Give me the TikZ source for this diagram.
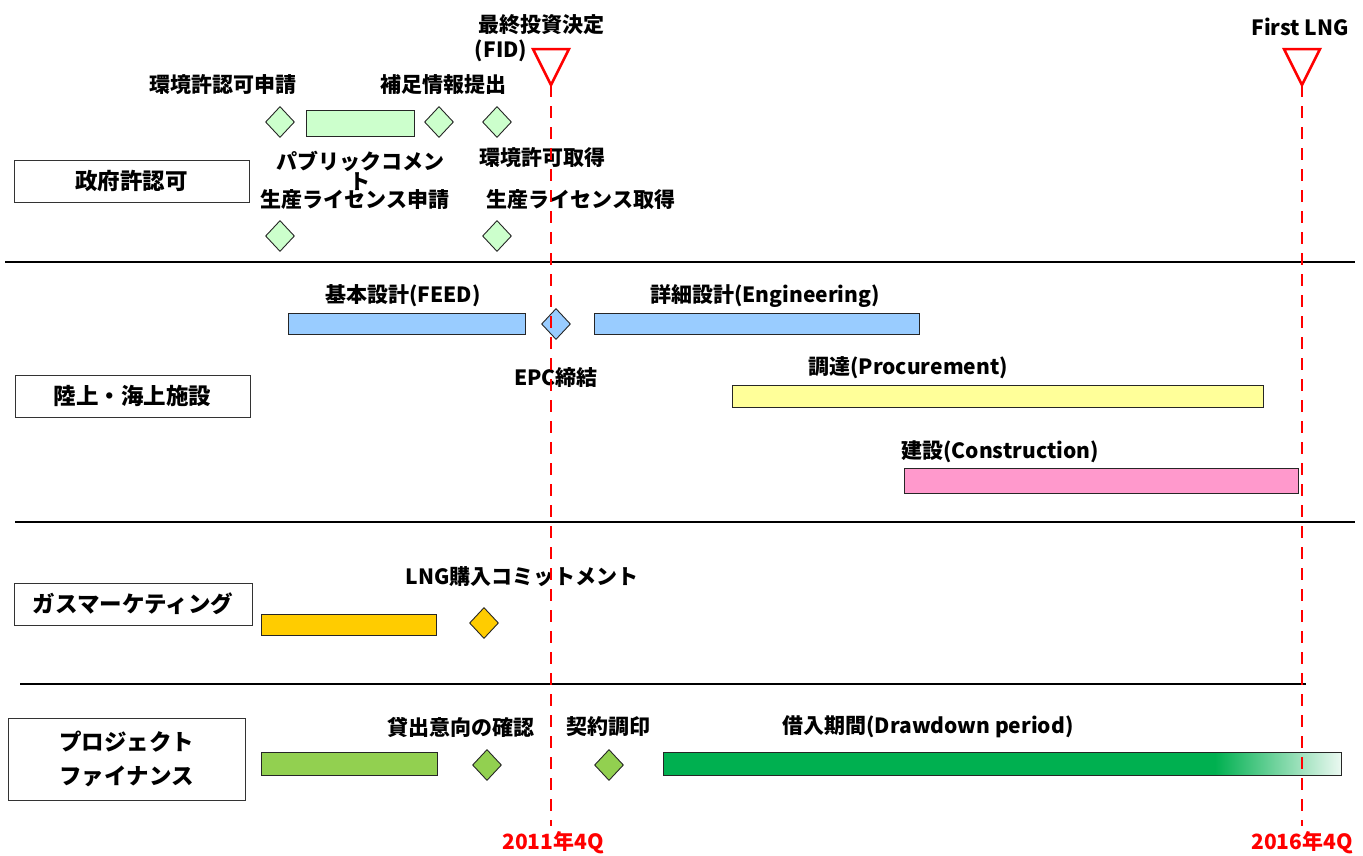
\documentclass[tikz,border=0pt]{standalone}
\usepackage{fontspec}
\setmainfont{Noto Sans CJK JP}
\usetikzlibrary{shapes.geometric}
\definecolor{govgreen}{HTML}{CCFFCC}
\definecolor{facblue}{HTML}{99CCFF}
\definecolor{procyel}{HTML}{FFFF99}
\definecolor{conpink}{HTML}{FF99CC}
\definecolor{gasgold}{HTML}{FFCC00}
\definecolor{pflime}{HTML}{92D050}
\definecolor{pfgreen}{HTML}{00B050}
\definecolor{msred}{HTML}{FF0000}
\tikzset{
  lbl/.style={font=\fontsize{21}{24}\selectfont\bfseries, inner sep=0pt},
  redlbl/.style={lbl, text=msred},
  rowbox/.style={draw=black!80, line width=1pt, fill=white, minimum width=235pt, minimum height=42pt, font=\fontsize{22.5}{34}\selectfont\bfseries, align=center},
  bar/.style={draw=black!85, line width=1pt},
  ms/.style={diamond, draw=black!85, line width=0.9pt, minimum width=29pt, minimum height=31pt, inner sep=0pt},
  sep/.style={line width=1.6pt, black},
  milestone/.style={draw=msred, line width=2.5pt, fill=white},
  fidline/.style={draw=msred, line width=2.6pt, dash pattern=on 12pt off 9pt},
}
\begin{document}
\begin{tikzpicture}[x=1pt,y=-1pt]
\useasboundingbox (0,0) rectangle (1363,855);

% separator lines
\draw[sep] (5,262) -- (1355,262);
\draw[sep] (15,522) -- (1355,522);
\draw[sep] (20,684) -- (1306,684);

% row boxes
\node[rowbox] (gov) at (131.5,181) {政府許認可};
\node[rowbox] (fac) at (132.5,396) {陸上・海上施設};
\node[rowbox, minimum width=238pt] (gas) at (133,604) {ガスマーケティング};
\node[rowbox, minimum width=237pt, minimum height=82pt] (pf) at (126.5,759) {プロジェクト\\ファイナンス};

% --- government permits
\node[lbl] (envapp) at (223,85) {環境許認可申請};
\node[ms, fill=govgreen] (d1) at (280,122) {};
\draw[bar, fill=govgreen] (306,110) rectangle (414,136);
\node[ms, fill=govgreen] (d2) at (439,122) {};
\node[lbl] (supp) at (443,85) {補足情報提出};
\node[ms, fill=govgreen] (d3) at (497,122) {};
\node[lbl, align=center] (pubc) at (360,171) {パブリックコメン\\[-4pt]ト};
\node[lbl] (envok) at (542,158) {環境許可取得};
\node[lbl] (prodapp) at (355,200) {生産ライセンス申請};
\node[lbl] (prodok) at (581,200) {生産ライセンス取得};
\node[ms, fill=govgreen] (d4) at (280,236) {};
\node[ms, fill=govgreen] (d5) at (497,236) {};

% --- facilities
\node[lbl] (feed) at (403,296) {基本設計(FEED)};
\draw[bar, fill=facblue] (288,313) rectangle (525,334);
\node[ms, fill=facblue] (epc) at (556,324) {};
\draw[bar, fill=facblue] (594,313) rectangle (919,334);
\node[lbl] (eng) at (765,296) {詳細設計(Engineering)};
\node[lbl] (epcl) at (556,378) {EPC締結};
\node[lbl] (proc) at (908,368) {調達(Procurement)};
\draw[bar, fill=procyel] (732,385) rectangle (1263,407);
\node[lbl] (cons) at (1000,452) {建設(Construction)};
\draw[bar, fill=conpink] (904,468) rectangle (1298,493);

% --- gas marketing
\node[lbl] (lngc) at (522,577) {LNG購入コミットメント};
\draw[bar, fill=gasgold] (261,614) rectangle (436,635);
\node[ms, fill=gasgold] (d6) at (484,623) {};

% --- project finance
\node[lbl] (lend) at (461,727) {貸出意向の確認};
\draw[bar, fill=pflime] (261,752) rectangle (437,775);
\node[ms, fill=pflime] (d7) at (487,765) {};
\node[lbl] (sign) at (608,727) {契約調印};
\node[ms, fill=pflime] (d8) at (609,765) {};
\node[lbl] (draw) at (928,727) {借入期間(Drawdown period)};
\fill[pfgreen] (663,752) rectangle (1215,775);
\shade[left color=pfgreen, right color=pfgreen!8] (1215,752) rectangle (1341,775);
\draw[bar] (663,752) rectangle (1341,775);

% --- milestones and time lines
\node[lbl] (fidt) at (541,25) {最終投資決定};
\node[lbl] (fidp) at (501,51) {(FID)};
\coordinate (fidapex) at (551,85);
\node[redlbl] (y2011) at (553,843) {2011年4Q};
\draw[fidline] (fidapex) -- (551,826);
\draw[milestone] (533,49) -- (569,49) -- (fidapex) -- cycle;

\node[lbl] (flng) at (1300,27) {First LNG};
\coordinate (lngapex) at (1302,85);
\node[redlbl] (y2016) at (1302,843) {2016年4Q};
\draw[fidline] (lngapex) -- (1302,826);
\draw[milestone] (1284,49) -- (1320,49) -- (lngapex) -- cycle;
\end{tikzpicture}
\end{document}
